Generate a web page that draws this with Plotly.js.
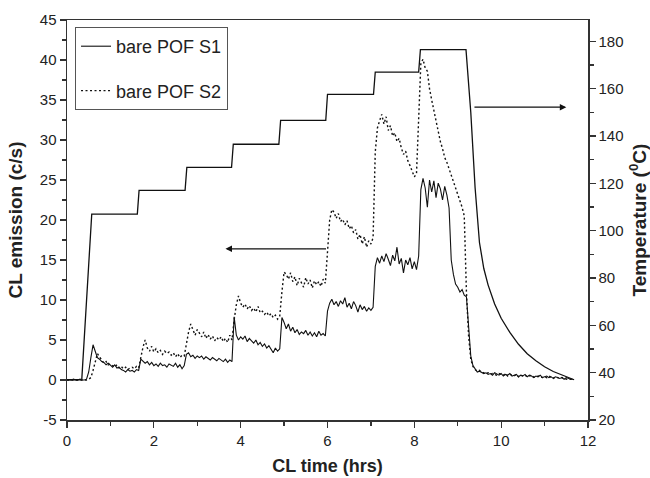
<!DOCTYPE html>
<html>
<head>
<meta charset="utf-8">
<script src="https://cdn.plot.ly/plotly-3.0.1.min.js"></script>
<style>
  html, body { margin: 0; padding: 0; background: #fff; }
  #chart { width: 650px; height: 478px; }
</style>
</head>
<body>
<div id="chart"></div>
<script>
// ---- Data ----
// CL emission sampled every 0.05 h, one row per hour (20 samples/row)
const sampleStepHrs = 0.05;

const s1Label = "bare POF S1";
const s2Label = "bare POF S2";

const s1Emission = [
  0,0,0,0.1,0,0,0.1,0,0,0.1, 1.0,2.8,4.4,3.6,2.8,2.6,2.3,2.2,1.9,2.1,
  1.8,1.6,1.9,1.5,1.6,1.3,1.2,1.0,1.3,1.1, 1.2,1.0,1.3,1.2,2.6,2.4,2.1,2.3,1.9,2.2,
  1.8,2.0,1.7,2.1,1.8,1.9,1.6,2.0,1.8,1.7, 2.1,1.6,1.9,1.4,1.8,3.2,3.4,2.9,3.1,2.7,
  3.0,2.8,3.0,2.6,2.9,2.7,2.5,2.8,2.6,2.4, 2.7,2.5,2.3,2.6,2.2,2.5,2.3,7.9,5.6,5.0,
  5.4,5.1,5.5,4.8,5.2,4.9,4.6,5.0,4.4,4.7, 4.2,4.5,4.0,4.3,3.8,3.4,4.0,3.6,3.9,7.8,
  7.2,6.4,7.0,6.1,6.6,5.9,6.3,5.7,6.0,5.8, 6.2,5.6,6.0,5.5,5.9,5.4,6.1,5.6,5.8,5.5,
  8.6,9.6,10.1,9.4,9.8,9.2,9.9,9.5,10.3,9.1, 9.6,8.9,9.8,9.3,8.5,9.4,8.8,9.2,8.6,9.0,
  8.7,9.1,14.2,15.3,14.6,15.5,14.8,15.8,15.1,14.3, 15.6,14.9,16.6,14.5,15.2,13.4,15.0,14.4,15.3,13.9,
  14.8,13.8,15.5,23.8,25.2,24.0,21.6,25.0,23.5,24.9, 22.8,24.6,23.9,22.5,24.2,23.1,21.5,15.0,13.2,12.0,
  11.6,11.0,11.3,10.6,10.4,6.0,3.0,1.8,1.4,1.0, 1.1,0.9,0.8,0.9,0.7,0.8,0.6,0.9,0.7,0.6,
  0.8,0.5,0.7,0.6,0.8,0.5,0.6,0.7,0.4,0.6, 0.5,0.7,0.4,0.6,0.5,0.3,0.5,0.4,0.6,0.3,
  0.4,0.5,0.3,0.4,0.2,0.4,0.3,0.2,0.3,0.1, 0.3,0.2,0.1,0.1
];

const s2Emission = [
  0,0,0,0,0,0,0,0,0,0, 0.1,0.3,1.2,2.2,3.3,2.9,2.5,2.1,2.3,1.9,
  2.0,1.8,1.6,1.9,1.5,1.7,1.4,1.6,1.3,1.5, 1.6,1.4,1.7,1.5,2.9,4.1,5.0,4.0,3.6,4.2,
  3.5,3.9,3.4,3.7,3.2,3.6,3.3,3.5,3.1,3.4, 2.9,3.3,2.8,3.1,3.0,4.8,6.0,7.0,6.2,5.6,
  6.3,5.8,5.4,6.0,5.2,5.7,5.1,5.5,4.9,5.3, 5.0,5.4,4.8,5.2,4.7,5.6,5.0,7.5,9.4,10.5,
  9.6,9.1,9.5,8.9,9.3,8.7,9.0,8.5,9.2,8.4, 8.6,8.2,8.5,8.0,8.3,7.8,8.1,7.6,8.0,11.0,
  13.5,13.2,12.6,13.4,12.3,12.9,11.8,12.7,12.2,11.6, 12.8,12.0,12.5,11.5,12.4,11.9,12.3,11.7,12.6,12.1,
  16.0,20.0,21.3,21.0,20.2,20.8,19.8,20.1,19.4,19.9, 18.9,19.3,18.4,18.8,17.6,18.2,17.0,17.9,16.6,17.4,
  17.0,17.8,28.5,31.5,32.4,33.2,32.0,32.9,31.2,31.8, 30.5,30.9,29.8,30.2,29.0,28.2,28.6,27.4,26.8,26.2,
  25.4,25.8,34.0,39.6,40.1,39.0,38.6,36.4,35.0,33.6, 32.2,31.0,29.8,28.9,27.8,27.2,26.4,25.6,24.9,24.0,
  23.4,22.6,21.6,20.5,11.0,5.5,2.6,1.7,1.3,1.1, 1.2,1.0,0.9,0.8,0.9,0.7,0.8,0.7,0.6,0.8,
  0.7,0.6,0.8,0.5,0.7,0.6,0.5,0.7,0.4,0.6, 0.5,0.6,0.4,0.5,0.6,0.4,0.3,0.5,0.4,0.3,
  0.4,0.3,0.5,0.3,0.2,0.4,0.3,0.2,0.3,0.2, 0.1,0.2,0.1,0.1
];

// Temperature profile (right axis)
const tempTimeHrs = [0, 0.34, 0.57, 1.62, 1.66, 2.72, 2.76, 3.79, 3.83, 4.88, 4.92, 5.96, 6.0,
  7.06, 7.1, 8.1, 8.14, 9.19, 9.3, 9.4, 9.5, 9.6, 9.7, 9.85, 10.0, 10.2, 10.4, 10.6, 10.8,
  11.0, 11.2, 11.4, 11.68];
const tempCelsius = [37, 37, 107, 107, 117, 117, 126.7, 126.7, 136.5, 136.5, 146.6, 146.6, 157.6,
  157.6, 167, 167, 176.5, 176.5, 150, 118, 95, 84, 77, 69, 63, 57, 52, 48, 45,
  42.5, 40.5, 39, 37];

// Tick labels
const xTickVals = [0, 2, 4, 6, 8, 10, 12];
const yTickVals = [-5, 0, 5, 10, 15, 20, 25, 30, 35, 40, 45];
const yTickText = ["-5", "0", "5", "10", "15", "20", "25", "30", "35", "40", "45"];
const y2TickVals = [20, 40, 60, 80, 100, 120, 140, 160, 180];

// ---- Build traces ----
const s1Time = s1Emission.map((_, i) => +(i * sampleStepHrs).toFixed(2));
const s2Time = s2Emission.map((_, i) => +(i * sampleStepHrs).toFixed(2));

const FONT = "Liberation Sans, Arial, sans-serif";
const INK = "#111";

const traces = [
  {
    x: tempTimeHrs, y: tempCelsius, yaxis: "y2", type: "scatter", mode: "lines",
    line: { color: INK, width: 1.3 }, showlegend: false, hoverinfo: "skip"
  },
  {
    x: s1Time, y: s1Emission, type: "scatter", mode: "lines", name: s1Label,
    line: { color: INK, width: 1.1 }, legendgroup: "a"
  },
  {
    x: s2Time, y: s2Emission, type: "scatter", mode: "lines", name: s2Label,
    line: { color: INK, width: 1.4, dash: "2px,2.5px" }, legendgroup: "b"
  }
];

const axisCommon = {
  showgrid: false, zeroline: false, showline: true, linecolor: "#333", linewidth: 1.5,
  ticks: "outside", ticklen: 6, tickwidth: 1.3, tickcolor: "#333",
  tickfont: { family: FONT, size: 15, color: "#222" }
};

const layout = {
  width: 650, height: 478,
  margin: { l: 67, r: 62, t: 20, b: 58 },
  paper_bgcolor: "#fff", plot_bgcolor: "#fff",
  font: { family: FONT, color: "#222" },
  xaxis: Object.assign({}, axisCommon, {
    range: [0, 12], tickmode: "array", tickvals: xTickVals, mirror: true,
    minor: { tickmode: "linear", tick0: 0, dtick: 1, ticks: "outside", ticklen: 4, tickcolor: "#333" },
    title: { text: "CL time (hrs)", standoff: 12, font: { family: FONT, size: 18, weight: "bold", color: "#222" } }
  }),
  yaxis: Object.assign({}, axisCommon, {
    range: [-5, 45], tickmode: "array", tickvals: yTickVals, ticktext: yTickText,
    minor: { tickmode: "linear", tick0: -5, dtick: 2.5, ticks: "outside", ticklen: 4, tickcolor: "#333" },
    title: { text: "CL emission (c/s)", standoff: 12, font: { family: FONT, size: 19, weight: "bold", color: "#222" } }
  }),
  yaxis2: Object.assign({}, axisCommon, {
    overlaying: "y", side: "right", range: [20, 189],
    tickmode: "array", tickvals: y2TickVals,
    minor: { tickmode: "linear", tick0: 20, dtick: 10, ticks: "outside", ticklen: 4, tickcolor: "#333" },
    title: { text: "Temperature (<sup>0</sup>C)", standoff: 10, font: { family: FONT, size: 19, weight: "bold", color: "#222" } }
  }),
  legend: {
    x: 0.0154, y: 0.9825, xanchor: "left", yanchor: "top",
    bgcolor: "#fff", bordercolor: "#555", borderwidth: 1,
    font: { family: FONT, size: 18, color: "#222" },
    traceorder: "grouped", tracegroupgap: 18,
    entrywidth: 135, entrywidthmode: "pixels"
  },
  annotations: [
    { x: 3.65, y: 16.4, ax: 6.0, ay: 16.4, xref: "x", yref: "y", axref: "x", ayref: "y",
      showarrow: true, arrowhead: 2, arrowsize: 1, arrowwidth: 1.3, arrowcolor: INK, text: "" },
    { x: 11.5, y: 34.1, ax: 9.35, ay: 34.1, xref: "x", yref: "y", axref: "x", ayref: "y",
      showarrow: true, arrowhead: 2, arrowsize: 1, arrowwidth: 1.3, arrowcolor: INK, text: "" }
  ]
};

Plotly.newPlot("chart", traces, layout, { staticPlot: true, displayModeBar: false });
</script>
</body>
</html>
